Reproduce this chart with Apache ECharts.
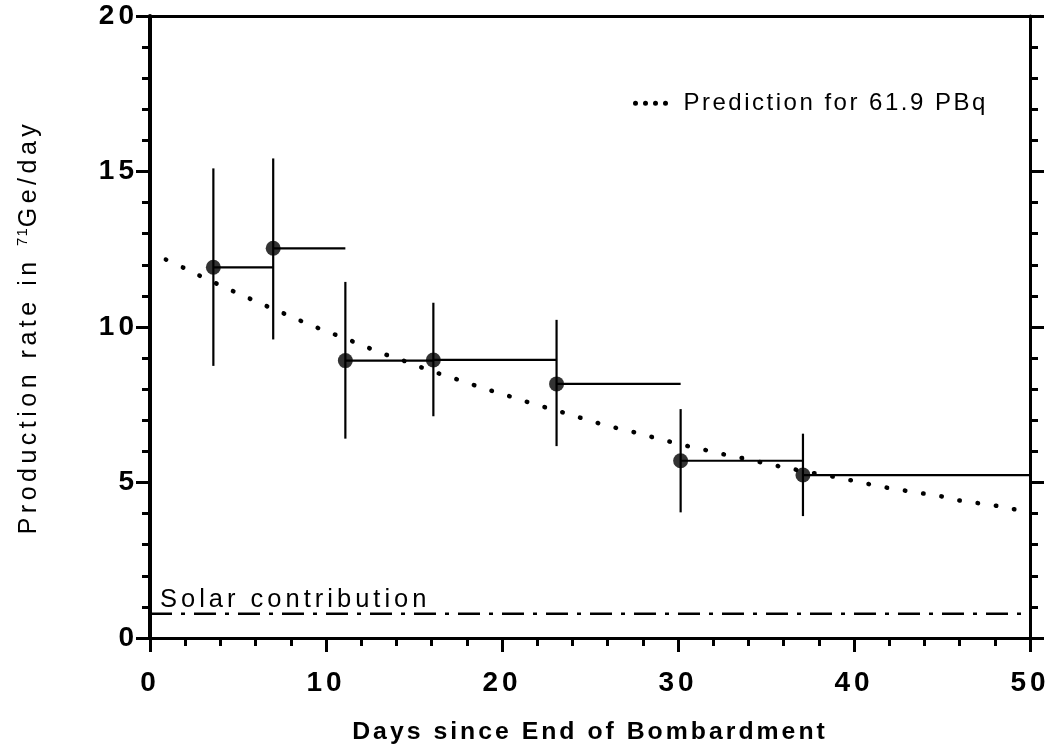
<!DOCTYPE html>
<html>
<head>
<meta charset="utf-8">
<script src="https://cdn.jsdelivr.net/npm/echarts@6/dist/echarts.min.js"></script>
<style>html,body{margin:0;padding:0;background:#fff;}#c{width:1057px;height:751px;}</style>
</head>
<body>
<div id="c"></div>
<script>
// Measured data (days since end of bombardment, production rate in 71Ge/day)
var days    = [3.6, 7.0, 11.1, 16.1, 23.1, 30.15, 37.1];
var dayEnd  = [7.0, 11.1, 16.1, 23.1, 30.15, 37.1, 50];
var rate    = [11.92, 12.53, 8.92, 8.94, 8.17, 5.70, 5.24];
var errHigh = [15.1, 15.42, 11.45, 10.78, 10.23, 7.36, 6.57];
var errLow  = [8.75, 9.6, 6.41, 7.13, 6.17, 4.04, 3.92];

// Prediction curve
var predDays = [0.9, 2, 3, 4, 5, 6, 7, 8, 9, 10, 11, 12, 13, 14, 15, 16, 17, 18, 19, 20, 21, 22, 23, 24, 25, 26, 27, 28, 29, 30, 31, 32, 33, 34, 35, 36, 38, 39, 40, 41, 42, 43, 44, 45, 46, 47, 48, 49, 50];
var predRate = [12.17, 11.88, 11.6, 11.34, 11.08, 10.83, 10.58, 10.34, 10.09, 9.87, 9.65, 9.43, 9.19, 9.0, 8.79, 8.58, 8.4, 8.21, 8.02, 7.85, 7.67, 7.49, 7.33, 7.16, 6.99, 6.82, 6.69, 6.54, 6.39, 6.25, 6.11, 5.99, 5.85, 5.75, 5.61, 5.49, 5.27, 5.17, 5.05, 4.93, 4.82, 4.73, 4.64, 4.55, 4.42, 4.34, 4.26, 4.15, 4.06];

// Solar contribution level
var solarDays = [0, 50];
var solarRate = [0.78, 0.78];

var xTicks = [0, 10, 20, 30, 40, 50];
var yTicks = [0, 5, 10, 15, 20];

// letter spacing (tracking) of the typeset original, keyed by font size
var TRACKING = {'28': '4px', '25': '4.5px', '24.8': '3px', '25.5': '4px', '24': '2.5px', '15': '1px'};
(function () {
  var P = window.CanvasRenderingContext2D && CanvasRenderingContext2D.prototype;
  if (!P || !('letterSpacing' in P)) return;
  function sp(font) {
    var m = /(\d+(?:\.\d+)?)px/.exec(font || '');
    return (m && TRACKING[m[1]]) || '0px';
  }
  var ft = P.fillText, mt = P.measureText;
  P.fillText = function (t, x, y, w) {
    this.letterSpacing = sp(this.font);
    return w === undefined ? ft.call(this, t, x, y) : ft.call(this, t, x, y, w);
  };
  P.measureText = function (t) {
    this.letterSpacing = sp(this.font);
    return mt.call(this, t);
  };
})();

var errData = days.map(function (d, i) { return [d, rate[i], errLow[i], errHigh[i], dayEnd[i]]; });
var ptData = days.map(function (d, i) { return [d, rate[i]]; });
var predData = predDays.map(function (d, i) { return [d, predRate[i]]; });
var solarData = solarDays.map(function (d, i) { return [d, solarRate[i]]; });

var FONT = '"Liberation Sans", Arial, Helvetica, sans-serif';
var chart = echarts.init(document.getElementById('c'), null, {renderer: 'canvas'});

function axisCommon(extra) {
  var base = {
    axisLine: {show: true, onZero: false, lineStyle: {color: '#000', width: 3}},
    axisTick: {show: true, inside: false, length: 14, lineStyle: {color: '#000', width: 3}},
    minorTick: {show: true, splitNumber: 5, length: 8, lineStyle: {color: '#000', width: 3}},
    splitLine: {show: false},
    minorSplitLine: {show: false}
  };
  for (var k in extra) base[k] = extra[k];
  return base;
}

chart.setOption({
  backgroundColor: '#fff',
  animation: false,
  grid: {left: 150, right: 27, top: 15, bottom: 103, containLabel: false},
  legend: {
    show: true,
    left: 628, top: 85,
    data: [{name: 'Prediction for 61.9 PBq', icon: 'path://M0,2a2,2 0 1,0 4,0a2,2 0 1,0 -4,0M8,2a2,2 0 1,0 4,0a2,2 0 1,0 -4,0M16,2a2,2 0 1,0 4,0a2,2 0 1,0 -4,0M24,2a2,2 0 1,0 4,0a2,2 0 1,0 -4,0'}],
    itemWidth: 40, itemHeight: 5, itemGap: 10,
    textStyle: {fontFamily: FONT, fontSize: 24, color: '#000', padding: [0, 0, 0, 8]},
    itemStyle: {color: '#000'}
  },
  xAxis: [
    axisCommon({
      type: 'value', min: 0, max: 50, interval: 10, position: 'bottom',
      axisLabel: {fontFamily: FONT, fontSize: 28, fontWeight: 'bold', color: '#000', margin: 29},
      name: 'Days since End of Bombardment', nameLocation: 'middle', nameGap: 80,
      nameTextStyle: {fontFamily: FONT, fontSize: 24.8, fontWeight: 'bold', color: '#000'}
    }),
    axisCommon({
      type: 'value', min: 0, max: 50, interval: 10, position: 'top',
      axisTick: {show: false}, minorTick: {show: false}, axisLabel: {show: false}
    })
  ],
  yAxis: [
    axisCommon({
      type: 'value', min: 0, max: 20, interval: 5, position: 'left',
      axisLine: {show: true, onZero: false, lineStyle: {color: '#000', width: 4}},
      axisLabel: {fontFamily: FONT, fontSize: 28, fontWeight: 'bold', color: '#000', margin: 12},
      name: '{a|Production rate in }{s|71}{a|Ge/day}', nameLocation: 'middle', nameGap: 106, nameRotate: 90,
      nameTextStyle: {
        fontFamily: FONT, fontSize: 25, color: '#000',
        rich: {
          a: {fontFamily: FONT, fontSize: 25, color: '#000'},
          s: {fontFamily: FONT, fontSize: 15, color: '#000', verticalAlign: 'top', padding: [0, 0, 10, 0]}
        }
      }
    }),
    axisCommon({
      type: 'value', min: 0, max: 20, interval: 5, position: 'right',
      axisLabel: {show: false}
    })
  ],
  series: [
    {
      name: 'Prediction for 61.9 PBq', type: 'line', data: predData, smooth: 0.3,
      showSymbol: false, symbol: 'none', z: 2,
      lineStyle: {color: '#000', width: 4.5, type: [0.5, 18], cap: 'round'},
      itemStyle: {color: '#000'}
    },
    {
      name: 'Solar', type: 'line', data: solarData, showSymbol: false, symbol: 'none', z: 2,
      lineStyle: {color: '#000', width: 2.5, type: [22, 9, 4, 9]}
    },
    {
      name: 'Err', type: 'custom', data: errData, z: 3,
      renderItem: function (params, api) {
        var x = api.value(0), y = api.value(1), lo = api.value(2), hi = api.value(3), xe = api.value(4);
        var pLo = api.coord([x, lo]), pHi = api.coord([x, hi]);
        var p0 = api.coord([x, y]), pE = api.coord([xe, y]);
        var st = {stroke: '#000', lineWidth: 2.2, fill: null};
        return {
          type: 'group',
          children: [
            {type: 'line', shape: {x1: pLo[0], y1: pLo[1], x2: pHi[0], y2: pHi[1]}, style: st},
            {type: 'line', shape: {x1: p0[0], y1: p0[1], x2: pE[0], y2: pE[1]}, style: st}
          ]
        };
      }
    },
    {
      name: 'Data', type: 'scatter', data: ptData, symbol: 'circle', symbolSize: 15, z: 4,
      itemStyle: {color: '#000'}
    }
  ],
  graphic: [
    {type: 'text', left: 160, top: 585, style: {text: 'Solar contribution', fontFamily: FONT, fontSize: 25.5, fill: '#000'}}
  ]
});
</script>
</body>
</html>
